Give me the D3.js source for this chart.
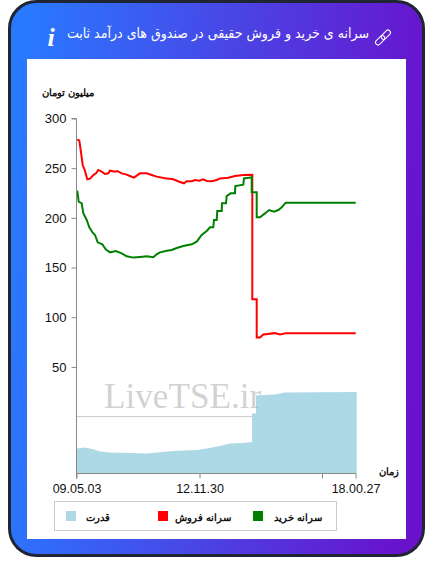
<!DOCTYPE html>
<html><head><meta charset="utf-8">
<script src="https://cdn.jsdelivr.net/npm/d3@7/dist/d3.min.js"></script>
<style>html,body{margin:0;padding:0;background:#fff}svg{display:block}</style>
</head><body><svg id="c" width="433" height="574"></svg>
<script>
const titleText = "سرانه ی خرید و فروش حقیقی در صندوق های درآمد ثابت";
const yTitle = "میلیون تومان";
const xTitle = "زمان";
const yTicks = [50,100,150,200,250,300];
const xTickPos = [0,123,245.5,279];
const xTickLabels = ["09.05.03","12.11.30","","18.00.27"];
const legendLabels = ["سرانه خرید","سرانه فروش","قدرت"];
const seriesColors = ["green","red","lightblue"];

const sellT = [0.8,2.8,4.2,6.2,8.2,10.8,13.5,16.8,19.5,21.8,25.2,28.5,31.8,33.5,38.5,40.8,45.2,49.5,53.5,57.5,60.2,63.5,70.2,75.2,80.2,88.5,96.8,102.8,107.5,110.2,115.2,118.5,122.8,126.8,130.2,135.2,140.2,143.5,151.8,158.5,166.8,175.8,175.8,180.2,180.2,183.5,186.8,198.5,203.5,209.5,279.2];
const sellV = [279,277.7,268.3,253.2,248.2,238.8,239.5,243.1,244.8,248.2,246.5,244.1,244.8,247.5,246.5,247.2,244.8,243.8,242.1,240.5,242.5,244.8,244.8,243.1,241.5,239.8,238.8,236.4,234.8,236.8,236.8,238.1,237.4,238.8,237.1,236.8,238.1,239.7,240.4,242.1,243.1,243.4,118,118,79.7,79.7,82.7,84,82.7,84,84];
const buyT = [0.8,2.2,5.2,6.8,10.2,12.8,16.2,18.5,21.2,25.8,29.2,33.5,39.5,45.2,50.2,56.8,63.5,70.2,76.8,80.2,83.5,90.2,95.2,100.2,106.8,115.2,120.2,125.2,130.2,133.5,136.8,137.5,140.2,140.8,145.2,145.5,149.5,150.2,154.2,158.5,158.8,166.8,167.5,175.2,175.2,180.2,180.2,183.5,188.5,192.5,197.5,201.8,205.2,209.2,279.2];
const buyV = [227.4,216.3,214.6,204.6,197.9,190.5,185.1,182.8,175.4,173.4,168.3,165.3,166.6,164.3,161.3,160,160.6,161.3,160.3,163.3,165.3,167,167.7,169.7,171.7,173.4,176,182.8,186.8,190.5,190.5,197.9,197.9,207,207,214.6,214.6,222,224.7,224.7,232,233.4,239.7,240.8,225.7,225.7,200.5,200.5,204.5,207.9,206.2,207.9,210.6,215.3,215.3];
const capT = [0,8.5,15.5,23.5,33.5,53.5,70.2,96.5,120.5,130.5,143.5,153.5,166.5,175.5,175.5,179.5,179.5,198.5,208.5,280.2];
const capV = [25,26,24.5,22,21,20.5,20,22.5,23.5,25,27.5,30,30.5,31.5,60,60,78,79,81,81.5];

const svg = d3.select("#c");
const defs = svg.append("defs");
const g = defs.append("linearGradient").attr("id","bg").attr("x1","0%").attr("y1","45%").attr("x2","100%").attr("y2","55%");
g.append("stop").attr("offset","0%").attr("stop-color","#2979ff");
g.append("stop").attr("offset","100%").attr("stop-color","#6a11cb");

svg.append("rect").attr("x",9.5).attr("y",1.5).attr("width",414).attr("height",554).attr("rx",27)
  .attr("fill","url(#bg)").attr("stroke","#1f2533").attr("stroke-width",3);
svg.append("rect").attr("x",27).attr("y",59).attr("width",379).attr("height",480).attr("fill","#fff");

const face = "DejaVu Sans Condensed";
svg.append("text").attr("x",369).attr("y",38).attr("text-anchor","start").attr("direction","rtl")
  .attr("font-family",face).attr("font-size",14).attr("fill","#fff").text(titleText);
svg.append("text").attr("x",51).attr("y",46).attr("text-anchor","middle")
  .attr("font-family","Liberation Serif").attr("font-style","italic").attr("font-weight","bold").attr("font-size",26).attr("fill","#fff").text("i");
const icon = svg.append("g").attr("transform","translate(383,37.5) rotate(-45)").attr("fill","none").attr("stroke","#fff").attr("stroke-width",1);
icon.append("rect").attr("x",-9.5).attr("y",-2.5).attr("width",11).attr("height",5).attr("rx",2.5);
icon.append("rect").attr("x",-1.5).attr("y",-2.5).attr("width",11).attr("height",5).attr("rx",2.5);

const x = d3.scaleLinear().domain([0,279]).range([76.5,355.5]);
const y = d3.scaleLinear().domain([0,300]).range([416.6,118.5]);
const yCap = d3.scaleLinear().domain([0,81.5]).range([473.5,392]);

svg.append("line").attr("x1",x(0)).attr("x2",x(280)).attr("y1",y(0)).attr("y2",y(0)).attr("stroke","#ccc");

svg.append("path").datum(capT.map((t,i)=>[t,capV[i]]))
  .attr("d",d3.area().x(d=>x(d[0])).y0(yCap(0)).y1(d=>yCap(d[1]))).attr("fill",seriesColors[2]);

svg.append("text").attr("x",104).attr("y",408).attr("font-family","Liberation Serif").attr("font-size",35.2)
  .attr("fill","#999").attr("fill-opacity",.45).text("LiveTSE.ir");

const line = d3.line().x(d=>x(d[0])).y(d=>y(d[1]));
svg.append("path").datum(sellT.map((t,i)=>[t,sellV[i]])).attr("d",line).attr("fill","none").attr("stroke",seriesColors[1]).attr("stroke-width",2);
svg.append("path").datum(buyT.map((t,i)=>[t,buyV[i]])).attr("d",line).attr("fill","none").attr("stroke",seriesColors[0]).attr("stroke-width",2);

const gy = svg.append("g").attr("transform","translate(76.5,0)")
  .call(d3.axisLeft(y).tickValues(yTicks).tickSize(5).tickPadding(5));
gy.select(".domain").attr("d",`M-5,118.5H0V473.5`).attr("stroke","#888").attr("fill","none");
gy.selectAll(".tick line").attr("stroke","#888");
gy.selectAll(".tick text").attr("font-family","Liberation Sans").attr("font-size",13).attr("fill","#111");

const gx = svg.append("g").attr("transform","translate(0,473.5)")
  .call(d3.axisBottom(x).tickValues(xTickPos).tickSize(5).tickPadding(6).tickFormat((d,i)=>xTickLabels[i]));
gx.select(".domain").attr("d",`M76.5,5V0H356`).attr("stroke","#888").attr("fill","none");
gx.selectAll(".tick line").attr("stroke","#888");
gx.selectAll(".tick text").attr("font-family","Liberation Sans").attr("font-size",12.5).attr("fill","#111");

const labelFace = "Liberation Sans, Arial, sans-serif";
svg.append("text").attr("x",94).attr("y",96).attr("text-anchor","start").attr("direction","rtl")
  .attr("font-family",labelFace).attr("font-weight","bold").attr("font-size",10).attr("fill","#111").text(yTitle);
svg.append("text").attr("x",399).attr("y",475).attr("text-anchor","start").attr("direction","rtl")
  .attr("font-family",labelFace).attr("font-weight","bold").attr("font-size",10).attr("fill","#111").text(xTitle);

svg.append("rect").attr("x",54.5).attr("y",501.5).attr("width",282).attr("height",29).attr("fill","#fff").attr("stroke","#ccc");
const legendSwatch = [253,158,66], legendRight = [322,231,110];
legendLabels.forEach((l,i)=>{
  svg.append("rect").attr("x",legendSwatch[i]).attr("y",511).attr("width",10).attr("height",10).attr("fill",seriesColors[i]);
  svg.append("text").attr("x",legendRight[i]).attr("y",520.5).attr("text-anchor","start").attr("direction","rtl")
    .attr("font-family",labelFace).attr("font-weight","bold").attr("font-size",10).attr("fill","#111").text(l);
});
</script></body></html>
